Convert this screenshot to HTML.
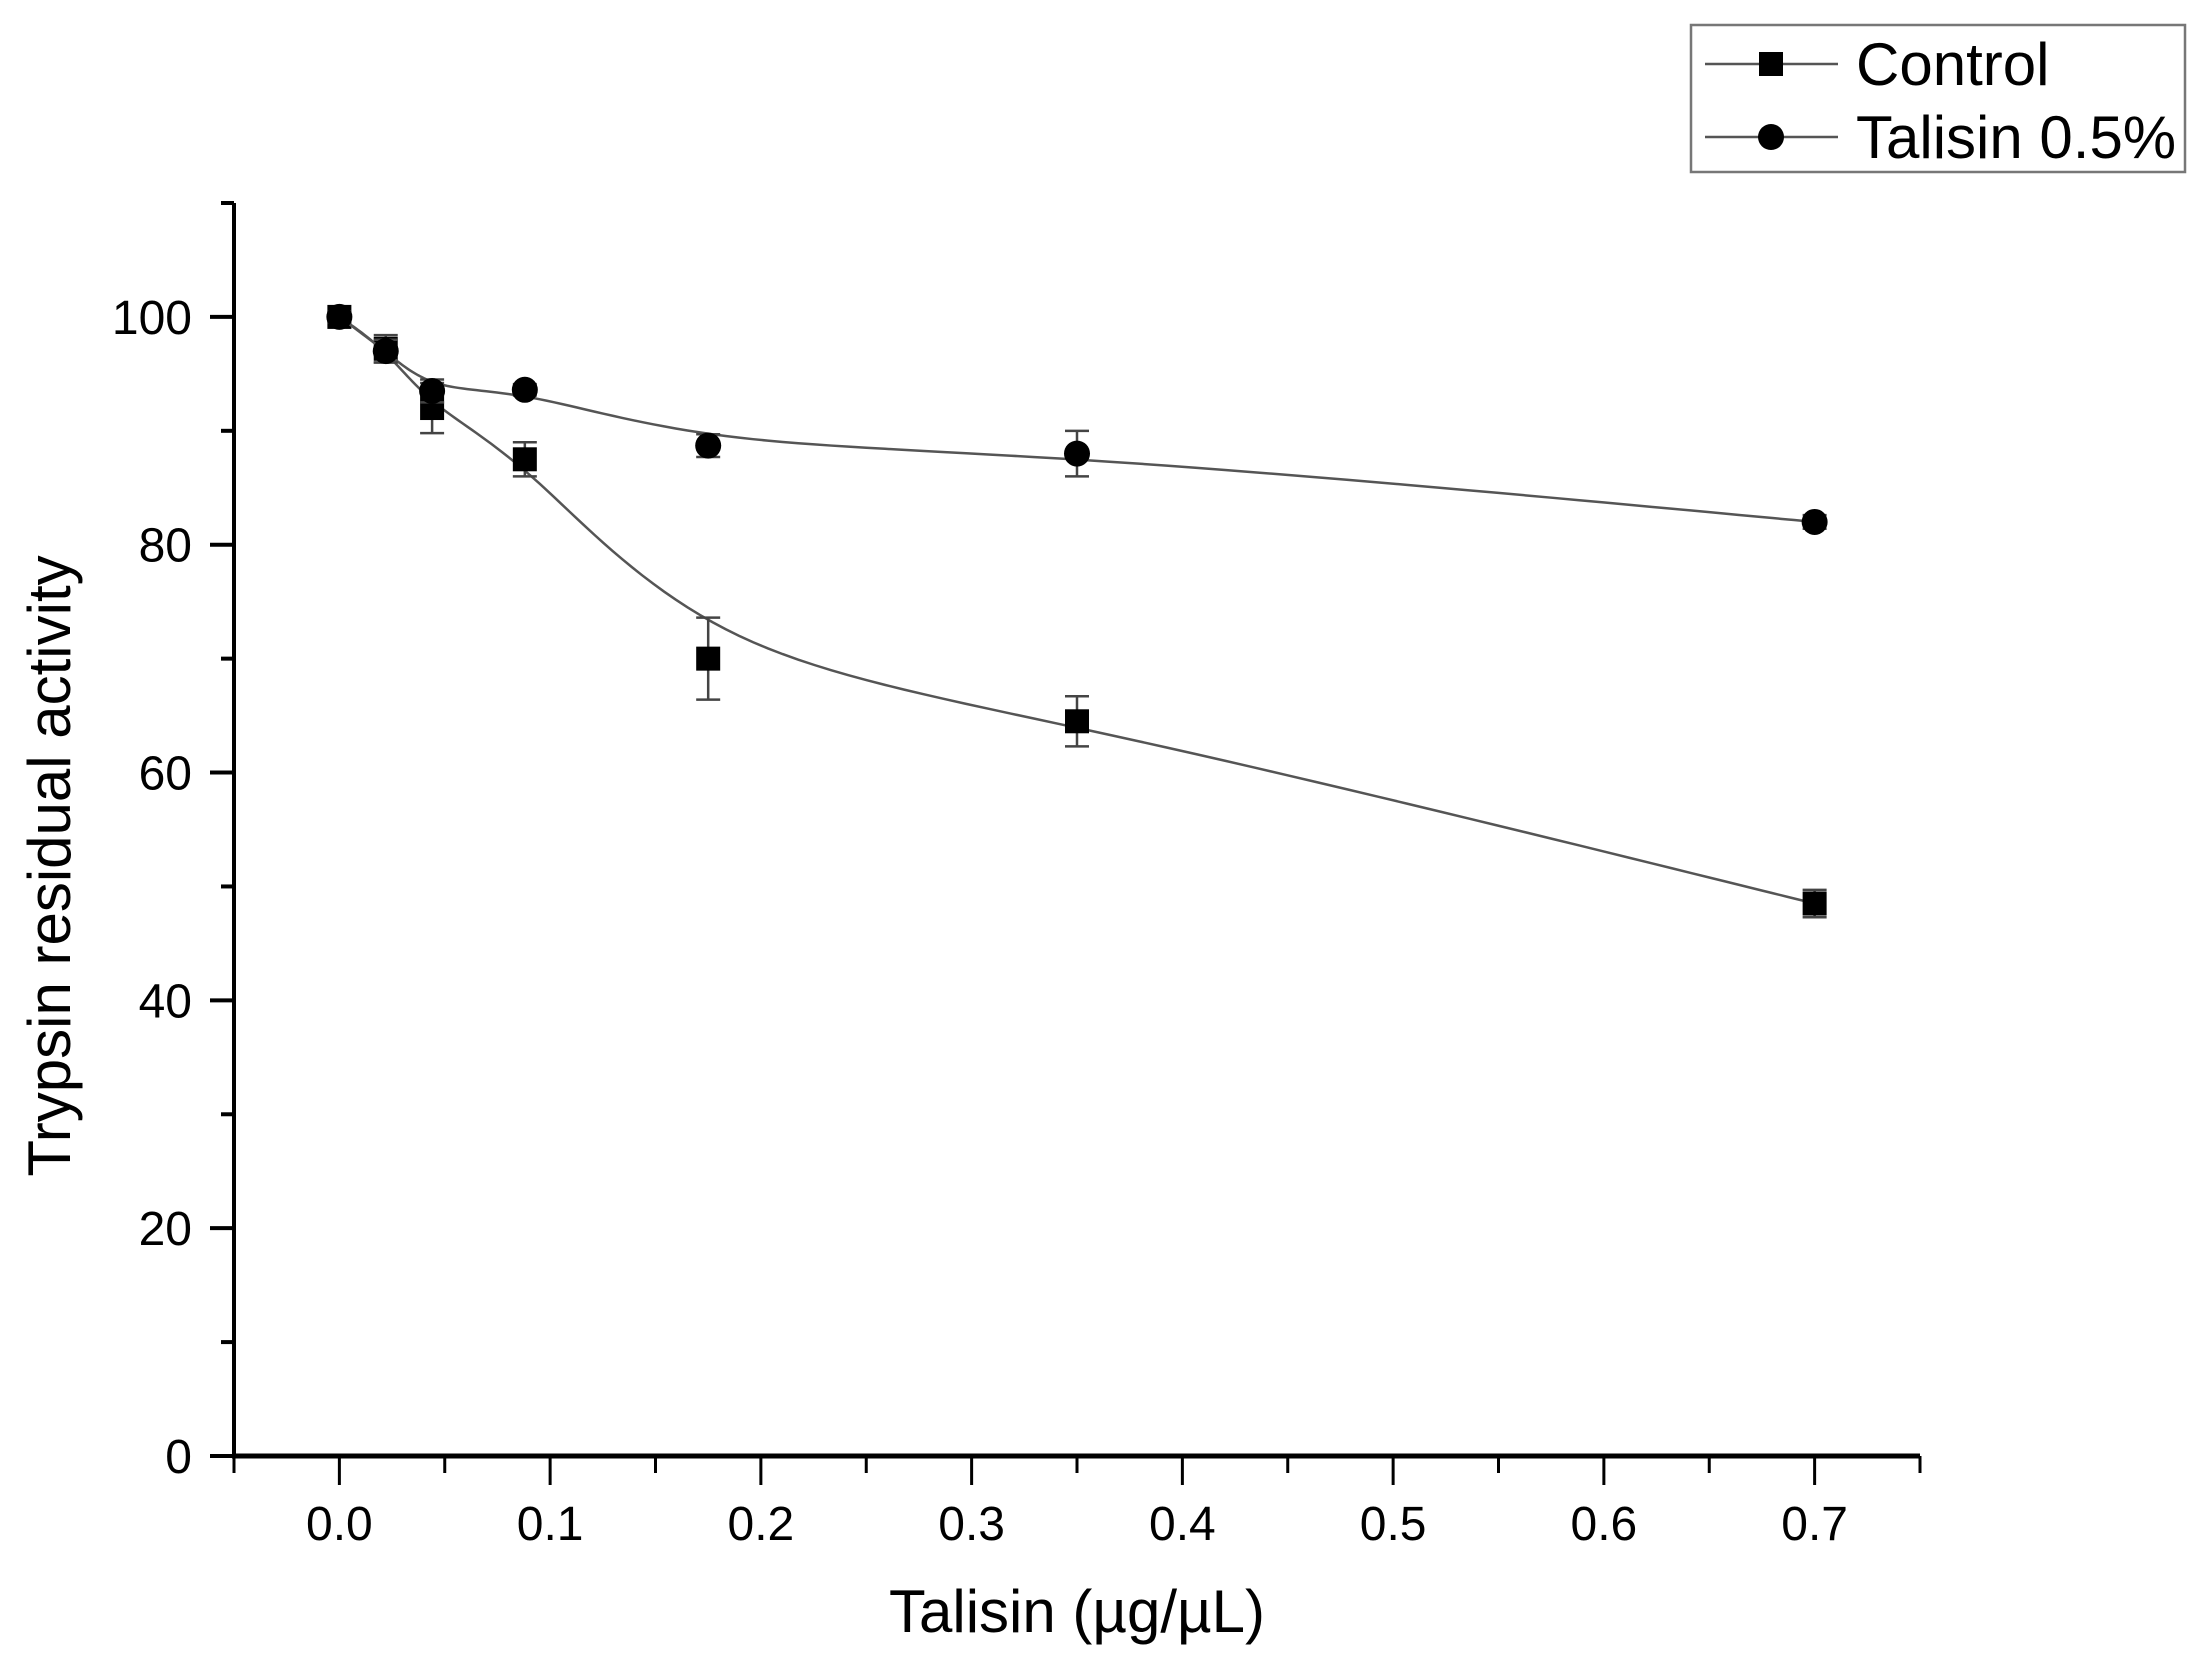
<!DOCTYPE html>
<html><head><meta charset="utf-8"><style>
html,body{margin:0;padding:0;background:#fff;}
svg{display:block;font-family:"Liberation Sans",Arial,sans-serif;}
</style></head><body>
<svg id="chart" width="2209" height="1656" viewBox="0 0 2209 1656"></svg>
<script>
const xValues=[0,0.022,0.044,0.088,0.175,0.35,0.7];
const controlValues=[100,97.2,92,87.5,70,64.5,48.5];
const controlErrors=[0.5,1.2,2.2,1.5,3.6,2.2,1.2];
const talisinValues=[100,97,93.5,93.6,88.7,88,82];
const talisinErrors=[0.5,1,1,0.5,1,2,0.6];
const xTicks=[0,0.1,0.2,0.3,0.4,0.5,0.6,0.7];
const yTicks=[0,20,40,60,80,100];

const NS="http://www.w3.org/2000/svg";
const svg=document.getElementById('chart');
const X0=-0.05,X1=0.75,PX0=234,PX1=1920;
const Y0=0,Y1=110,PY0=1456,PY1=203;
const sx=v=>PX0+(v-X0)/(X1-X0)*(PX1-PX0);
const sy=v=>PY0-(v-Y0)/(Y1-Y0)*(PY0-PY1);
function mk(tag,attrs,parent){const e=document.createElementNS(NS,tag);for(const k in attrs)e.setAttribute(k,attrs[k]);(parent||svg).appendChild(e);return e;}

const axes=mk('g',{});


const yAxis=mk('line',{x1:PX0,y1:PY1,x2:PX0,y2:PY0+2,stroke:'#000','stroke-width':4},axes);


mk('line',{x1:PX0-12,y1:PY1,x2:PX0,y2:PY1,stroke:'#000','stroke-width':4},axes);
const xAxis=mk('line',{x1:PX0-2,y1:PY0,x2:PX1,y2:PY0,stroke:'#000','stroke-width':5},axes);


for(let v=0;v<=110;v+=10){
  const major=v%20===0;
  mk('line',{x1:PX0-(major?24:13),y1:sy(v),x2:PX0,y2:sy(v),stroke:'#000','stroke-width':4},axes);
}
yTicks.forEach(v=>{
  const t=mk('text',{x:192,y:sy(v)+17,'text-anchor':'end','font-size':48,fill:'#000'},axes);
  t.textContent=v;
  
  
});
for(let i=0;i<=16;i++){
  const v=-0.05+i*0.05;
  const major=i%2===1;
  mk('line',{x1:sx(v),y1:PY0,x2:sx(v),y2:PY0+(major?29:17),stroke:'#000','stroke-width':3},axes);
}
xTicks.forEach(v=>{
  const t=mk('text',{x:sx(v),y:1540,'text-anchor':'middle','font-size':48,fill:'#000'},axes);
  t.textContent=v.toFixed(1);
  
  
});
const xt=mk('text',{x:1077,y:1632,'text-anchor':'middle','font-size':60,fill:'#000'});
xt.textContent='Talisin (\u00b5g/\u00b5L)';


const yt=mk('text',{x:0,y:0,'text-anchor':'middle','font-size':60,fill:'#000',transform:'translate(70,866) rotate(-90)'});
yt.textContent='Trypsin residual activity';



function bspline(xs,ys){
  const P=xs.map((x,i)=>[sx(x),sy(ys[i])]);
  const Q=[P[0],P[0],...P,P[P.length-1],P[P.length-1]];
  let d='M'+P[0][0]+','+P[0][1];
  for(let i=0;i<Q.length-3;i++){
    const [p0,p1,p2,p3]=[Q[i],Q[i+1],Q[i+2],Q[i+3]];
    for(let s=1;s<=20;s++){
      const t=s/20,t2=t*t,t3=t2*t;
      const b0=(1-t)**3/6,b1=(3*t3-6*t2+4)/6,b2=(-3*t3+3*t2+3*t+1)/6,b3=t3/6;
      d+=' L'+(b0*p0[0]+b1*p1[0]+b2*p2[0]+b3*p3[0]).toFixed(2)+','+(b0*p0[1]+b1*p1[1]+b2*p2[1]+b3*p3[1]).toFixed(2);
    }
  }
  return d;
}
function series(vals,errs,name,shape){
  const g=mk('g',{});
  
  
  const ln=mk('path',{d:bspline(xValues,vals),fill:'none',stroke:'#555','stroke-width':2.5},g);
  
  
  xValues.forEach((x,i)=>{
    const cx=sx(x),cy=sy(vals[i]),top=sy(vals[i]+errs[i]),bot=sy(vals[i]-errs[i]);
    const eb=mk('path',{d:`M${cx},${top}V${bot}M${cx-12},${top}H${cx+12}M${cx-12},${bot}H${cx+12}`,stroke:'#444','stroke-width':2.5,fill:'none'},g);
    
    
    let m;
    if(shape==='square') m=mk('rect',{x:cx-12,y:cy-12,width:24,height:24,fill:'#000'},g);
    else m=mk('circle',{cx:cx,cy:cy,r:13,fill:'#000'},g);
    
    
  });
}
series(controlValues,controlErrors,'control','square');
series(talisinValues,talisinErrors,'talisin','circle');

const lg=mk('g',{});


mk('rect',{x:1691,y:25,width:494,height:147,fill:'#fff',stroke:'#777','stroke-width':2.5},lg);
[['Control','square',64],['Talisin 0.5%','circle',137]].forEach(([lab,sh,y])=>{
  const e=mk('g',{},lg);
  
  
  mk('line',{x1:1705,y1:y,x2:1838,y2:y,stroke:'#555','stroke-width':2.5},e);
  if(sh==='square') mk('rect',{x:1759,y:y-12,width:24,height:24,fill:'#000'},e);
  else mk('circle',{cx:1771,cy:y,r:13,fill:'#000'},e);
  const t=mk('text',{x:1856,y:y+21,'font-size':60,fill:'#000'},e);
  t.textContent=lab;
});
</script>
</body></html>
